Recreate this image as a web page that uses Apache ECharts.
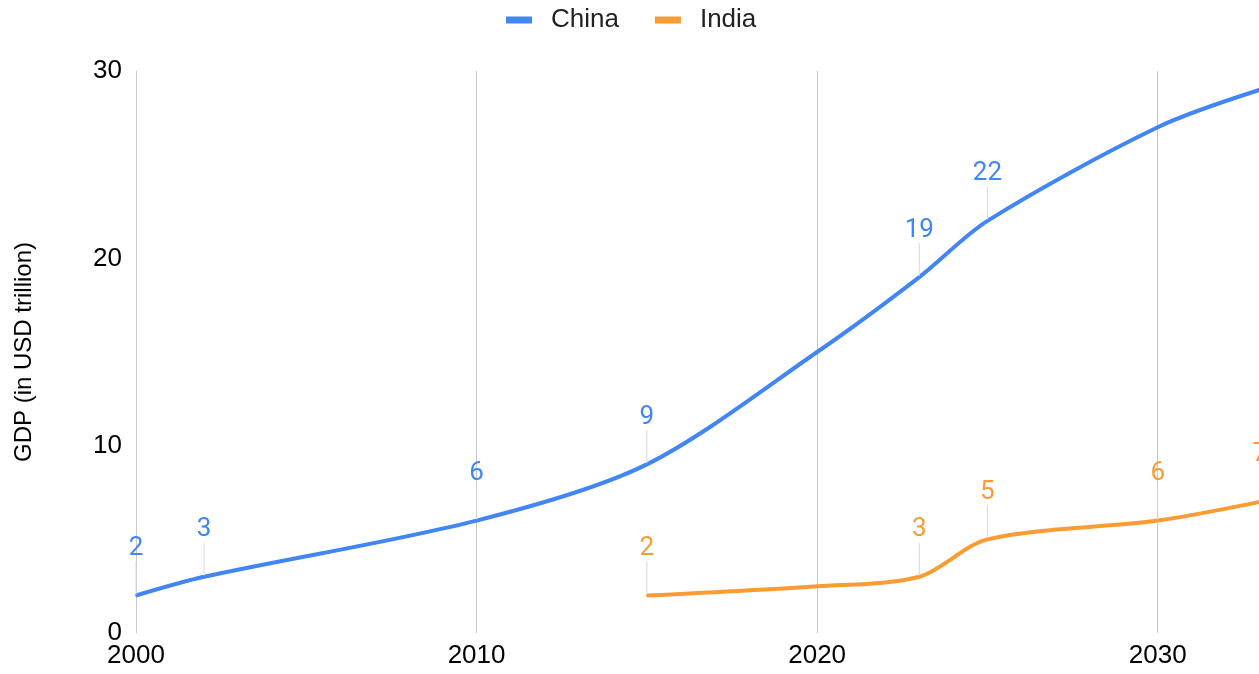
<!DOCTYPE html>
<html>
<head>
<meta charset="utf-8">
<script src="https://cdn.jsdelivr.net/npm/echarts@6/dist/echarts.min.js"></script>
<style>
  html, body { margin: 0; padding: 0; background: #fff; overflow: hidden; width: 1259px; height: 674px; }
  /* the plot runs on past the right edge of the window, out to 2035 */
  #chart { width: 1331px; height: 674px; }
</style>
</head>
<body>
<div id="chart"></div>
<script>
// GDP in USD trillion, by year
const chinaYears = [2000, 2002, 2010, 2015, 2020, 2023, 2025, 2030, 2033];
const chinaGdp   = [2, 3, 6, 9, 15, 19, 22, 27, 29];
const chinaShown = [2000, 2002, 2010, 2015, 2023, 2025];

const indiaYears = [2015, 2020, 2023, 2025, 2030, 2033];
const indiaGdp   = [2, 2.5, 3, 5, 6, 7];
const indiaShown = [2015, 2023, 2025, 2030, 2033];

const yTicks = [0, 10, 20, 30];

const BLUE = '#4285F4';
const ORANGE = '#FA9B33';
const AXIS_FONT = '"Liberation Sans", Arial, Helvetica, sans-serif';
const LABEL_FONT = 'Roboto, "Liberation Sans", Arial, sans-serif';

function points(years, values, shown) {
  return years.map((y, i) => ({
    value: [y, values[i]],
    label: { show: shown.indexOf(y) !== -1 },
    labelLine: { show: shown.indexOf(y) !== -1 }
  }));
}

function lineSeries(name, color, data) {
  return {
    name: name,
    type: 'line',
    data: data,
    smooth: 0.3,
    symbol: 'circle',
    symbolSize: 2,
    itemStyle: { color: color },
    lineStyle: { color: color, width: 4 },
    label: {
      position: 'top',
      distance: 5,
      color: color,
      fontFamily: LABEL_FONT,
      fontSize: 26,
      formatter: p => String(p.value[1])
    },
    labelLayout: { dy: -28 },
    labelLine: { lineStyle: { color: '#d8d8d8', width: 1 } },
    emphasis: { disabled: true }
  };
}

const chart = echarts.init(document.getElementById('chart'), null, { renderer: 'canvas' });
chart.setOption({
  animation: false,
  backgroundColor: '#fff',
  legend: {
    top: 2,
    left: 501,
    icon: 'rect',
    itemWidth: 26,
    itemHeight: 7,
    itemGap: 36,
    textStyle: {
      fontFamily: AXIS_FONT,
      fontSize: 26,
      color: '#222',
      padding: [0, 0, 0, 14]
    },
    data: ['China', 'India']
  },
  grid: { left: 136, right: 0, top: 71, bottom: 41, containLabel: false },
  xAxis: {
    type: 'value',
    min: 2000,
    max: 2035,
    interval: 10,
    axisLine: { show: false },
    axisTick: { show: false },
    splitLine: { show: true, lineStyle: { color: '#c8c8c8', width: 1 } },
    axisLabel: {
      color: '#000',
      fontFamily: AXIS_FONT,
      fontSize: 26,
      margin: 10,
      formatter: v => (v % 10 === 0 ? String(v) : '')
    }
  },
  yAxis: {
    type: 'value',
    min: yTicks[0],
    max: yTicks[yTicks.length - 1],
    interval: 10,
    name: 'GDP (in USD trillion)',
    nameLocation: 'middle',
    nameGap: 100,
    nameTextStyle: { color: '#000', fontFamily: AXIS_FONT, fontSize: 24 },
    axisLine: { show: false },
    axisTick: { show: false },
    splitLine: { show: false },
    axisLabel: {
      color: '#000',
      fontFamily: AXIS_FONT,
      fontSize: 26,
      margin: 14,
      formatter: v => String(v)
    }
  },
  series: [
    lineSeries('China', BLUE, points(chinaYears, chinaGdp, chinaShown)),
    lineSeries('India', ORANGE, points(indiaYears, indiaGdp, indiaShown))
  ]
});
</script>
</body>
</html>
